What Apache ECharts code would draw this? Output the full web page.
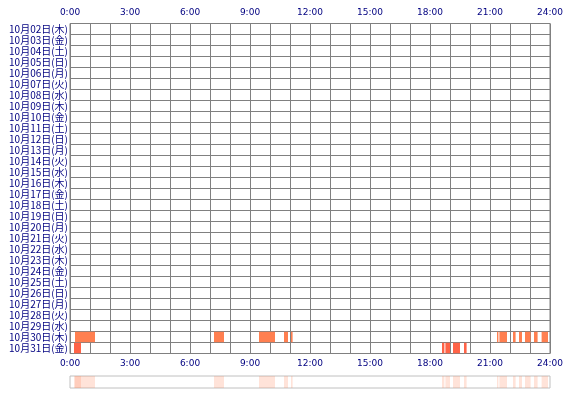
<!DOCTYPE html>
<html><head><meta charset="utf-8">
<script src="https://cdn.jsdelivr.net/npm/echarts@6/dist/echarts.min.js"></script>
<style>html,body{margin:0;padding:0;background:#fff}#c{width:570px;height:400px}</style>
</head><body><div id="c"></div>
<script>
var days = ['10月02日(木)','10月03日(金)','10月04日(土)','10月05日(日)','10月06日(月)','10月07日(火)','10月08日(水)','10月09日(木)','10月10日(金)','10月11日(土)','10月12日(日)','10月13日(月)','10月14日(火)','10月15日(水)','10月16日(木)','10月17日(金)','10月18日(土)','10月19日(日)','10月20日(月)','10月21日(火)','10月22日(水)','10月23日(木)','10月24日(金)','10月25日(土)','10月26日(日)','10月27日(月)','10月28日(火)','10月29日(水)','10月30日(木)','10月31日(金)'];
var hourTicks = ['0:00','3:00','6:00','9:00','12:00','15:00','18:00','21:00','24:00'];
// [rowIndex, startHour, endHour]
var oct30 = [[28,0.25,1.25],[28,7.2,7.7],[28,9.45,10.25],[28,10.7,10.9],[28,11.05,11.13],[28,21.35,21.42],[28,21.47,21.85],[28,22.15,22.28],[28,22.45,22.6],[28,22.75,23.03],[28,23.2,23.38],[28,23.58,23.9]];
var oct31 = [[29,0.2,0.55],[29,18.6,18.72],[29,18.77,19.0],[29,19.15,19.5],[29,19.7,19.83]];

function rect(color, hFrac){
  return function(params, api){
    var y = api.value(0), s = api.coord([api.value(1), y]), e = api.coord([api.value(2), y]);
    var h = api.size([0,1])[1]*hFrac;
    return {type:'rect', shape:{x:s[0], y:s[1]-h/2, width:Math.max(1,e[0]-s[0]), height:h}, style:{fill:color}};
  };
}
function stripItem(color){
  return function(params, api){
    var s = api.coord([api.value(1), 0]), e = api.coord([api.value(2), 0]);
    var h = api.size([0,1])[1];
    return {type:'rect', shape:{x:s[0], y:s[1]-h/2, width:Math.max(1,e[0]-s[0]), height:h}, style:{fill:color}};
  };
}
var lab = {color:'#000080', fontSize:9, fontFamily:'DejaVu Sans', formatter:function(v){return v%3===0?hourTicks[v/3]:'';}};
var chart = echarts.init(document.getElementById('c'));
chart.setOption({
  animation:false,
  grid:[{left:70,right:20,top:23.5,height:330,show:true,borderColor:'#808080',borderWidth:1},
        {left:70,right:20,top:376,height:12,show:true,borderColor:'#c0c0c0',borderWidth:1}],
  xAxis:[
    {gridIndex:0,type:'value',position:'top',min:0,max:24,interval:1,axisLine:{show:false},axisTick:{show:false},axisLabel:Object.assign({margin:6},lab),splitLine:{lineStyle:{color:'#808080'}}},
    {gridIndex:0,type:'value',position:'bottom',min:0,max:24,interval:1,axisLine:{show:false},axisTick:{show:false},axisLabel:Object.assign({margin:6},lab),splitLine:{show:false}},
    {gridIndex:1,type:'value',min:0,max:24,show:false}
  ],
  yAxis:[
    {gridIndex:0,type:'category',data:days,inverse:true,axisLine:{show:false},axisTick:{show:false},axisLabel:{interval:0,color:'#000080',fontSize:10,fontFamily:'Noto Sans CJK JP',margin:2},splitLine:{show:true,interval:0,lineStyle:{color:'#808080'}}},
    {gridIndex:1,type:'category',data:['all'],show:false}
  ],
  series:[
    {type:'custom',xAxisIndex:0,yAxisIndex:0,renderItem:rect('#ff7f50',0.95),data:oct30,encode:{x:[1,2],y:0}},
    {type:'custom',xAxisIndex:0,yAxisIndex:0,renderItem:rect('#ff6347',0.95),data:oct31,encode:{x:[1,2],y:0}},
    {type:'custom',xAxisIndex:2,yAxisIndex:1,renderItem:stripItem('rgba(255,127,80,0.22)'),data:oct30.concat(oct31),encode:{x:[1,2]}}
  ]
});
</script></body></html>
